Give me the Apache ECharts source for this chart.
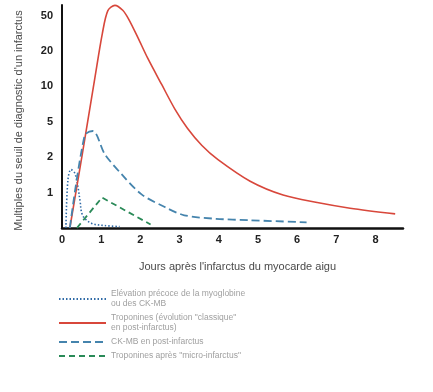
<!DOCTYPE html>
<html>
<head>
<meta charset="utf-8">
<script src="https://cdn.jsdelivr.net/npm/echarts@6/dist/echarts.min.js"></script>
<style>
html,body{margin:0;padding:0;background:#fff;}
#chart{width:433px;height:392px;}
</style>
</head>
<body>
<div id="chart"></div>
<script>
// Y axis is an ordinal scale: each step is one label below
const yTickLabels = ['', '1', '2', '5', '10', '20', '50'];
const xTickLabels = ['0', '1', '2', '3', '4', '5', '6', '7', '8'];

const seriesNames = [
  'Elévation précoce de la myoglobine\nou des CK-MB',
  'Troponines (évolution "classique"\nen post-infarctus)',
  'CK-MB en post-infarctus',
  'Troponines après "micro-infarctus"'
];

// Values: x in days, y in axis steps (0 = baseline, 1 = "1", 2 = "2", 3 = "5", 4 = "10", 5 = "20", 6 = "50")
const myoDays   = [0.10, 0.15, 0.23, 0.33, 0.41, 0.46, 0.53, 0.76, 1.09, 1.47];
const myoLevels = [0.00, 1.34, 1.65, 1.54, 1.14, 0.77, 0.35, 0.13, 0.07, 0.04];

const tropDays   = [0.20, 0.52, 0.84, 1.03, 1.17, 1.35, 1.55, 1.70, 1.94, 2.19, 2.55, 2.88, 3.20, 3.57, 3.98, 4.80, 5.64, 6.51, 7.35, 8.50];
const tropLevels = [0.00, 2.10, 4.25, 5.50, 6.14, 6.29, 6.15, 5.90, 5.37, 4.79, 4.04, 3.36, 2.82, 2.33, 1.93, 1.32, 0.93, 0.72, 0.56, 0.40];

const ckmbDays   = [0.20, 0.58, 0.79, 1.09, 1.52, 2.03, 2.61, 3.12, 3.93, 4.77, 6.24];
const ckmbLevels = [0.00, 2.62, 2.74, 2.09, 1.52, 0.95, 0.60, 0.36, 0.26, 0.22, 0.16];

const microDays   = [0.38, 1.02, 2.26];
const microLevels = [0.00, 0.86, 0.10];

const zip = (xs, ys) => xs.map((x, i) => [x, ys[i]]);

const chart = echarts.init(document.getElementById('chart'), null, {renderer: 'canvas'});
chart.setOption({
  animation: false,
  backgroundColor: '#ffffff',
  grid: {left: 62, right: 30, top: 5, bottom: 164, containLabel: false},
  legend: {
    orient: 'vertical',
    left: 58,
    top: 289,
    padding: 0,
    itemWidth: 47,
    itemHeight: 10,
    itemGap: 4,
    itemStyle: {opacity: 0},
    textStyle: {color: '#a0a0a0', fontSize: 8.5, lineHeight: 10, fontFamily: 'Liberation Sans'},
    data: seriesNames
  },
  xAxis: {
    type: 'value',
    min: 0, max: 8.7, interval: 1,
    name: "Jours après l'infarctus du myocarde aigu",
    nameLocation: 'middle',
    nameGap: 33,
    nameTextStyle: {color: '#4a4a4a', fontSize: 11, fontFamily: 'Liberation Sans', padding: [0, 0, 0, 10]},
    axisLine: {lineStyle: {color: '#111', width: 2.5}},
    axisTick: {show: false},
    splitLine: {show: false},
    axisLabel: {
      color: '#222', fontSize: 11, fontWeight: 'bold', fontFamily: 'Liberation Sans', margin: 6,
      showMaxLabel: false,
      formatter: v => (Number.isInteger(v) && xTickLabels[v] !== undefined) ? xTickLabels[v] : ''
    }
  },
  yAxis: {
    type: 'value',
    min: 0, max: 6.3, interval: 1,
    name: "Multiples du seuil de diagnostic d'un infarctus",
    nameLocation: 'middle',
    nameGap: 38,
    nameTextStyle: {color: '#4a4a4a', fontSize: 11, fontFamily: 'Liberation Sans', padding: [0, 8, 0, 0]},
    axisLine: {show: true, lineStyle: {color: '#111', width: 2}},
    axisTick: {show: false},
    splitLine: {show: false},
    axisLabel: {
      color: '#222', fontSize: 11, fontWeight: 'bold', fontFamily: 'Liberation Sans', margin: 9,
      showMaxLabel: false,
      formatter: v => (Number.isInteger(v) && yTickLabels[v] !== undefined) ? yTickLabels[v] : ''
    }
  },
  series: [
    {
      name: seriesNames[0], type: 'line', data: zip(myoDays, myoLevels),
      smooth: 0.35, symbol: 'none', clip: false,
      lineStyle: {color: '#2f6aa6', width: 1.6, type: [1.5, 2]},
      itemStyle: {color: '#2f6aa6'}
    },
    {
      name: seriesNames[1], type: 'line', data: zip(tropDays, tropLevels),
      smooth: 0.3, symbol: 'none', clip: false,
      lineStyle: {color: '#d8473b', width: 1.6},
      itemStyle: {color: '#d8473b'}
    },
    {
      name: seriesNames[2], type: 'line', data: zip(ckmbDays, ckmbLevels),
      smooth: 0.3, symbol: 'none', clip: false,
      lineStyle: {color: '#4584ad', width: 1.8, type: [8, 4]},
      itemStyle: {color: '#4584ad'}
    },
    {
      name: seriesNames[3], type: 'line', data: zip(microDays, microLevels),
      smooth: false, symbol: 'none', clip: false,
      lineStyle: {color: '#2a8a58', width: 1.8, type: [6, 4]},
      itemStyle: {color: '#2a8a58'}
    }
  ]
});
</script>
</body>
</html>
